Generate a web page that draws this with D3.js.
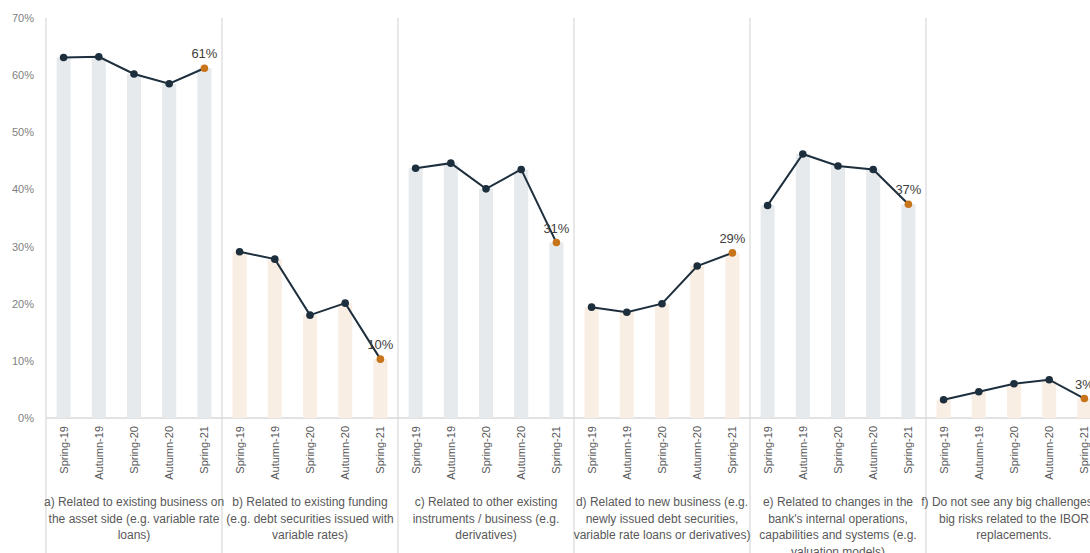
<!DOCTYPE html>
<html>
<head>
<meta charset="utf-8">
<script src="https://cdn.jsdelivr.net/npm/d3@7"></script>
<style>
  html, body { margin: 0; padding: 0; background: #fff; overflow: hidden; }
  svg { display: block; font-family: "Liberation Sans", Arial, sans-serif; }
</style>
</head>
<body>
<svg id="chart" width="1090" height="553"></svg>
<script>
const periods = ["Spring-19", "Autumn-19", "Spring-20", "Autumn-20", "Spring-21"];
const groups = ["a", "b", "c", "d", "e", "f"];
const groupLabels = [
  ["a) Related to existing business on", "the asset side (e.g. variable rate", "loans)"],
  ["b) Related to existing funding", "(e.g. debt securities issued with", "variable rates)"],
  ["c) Related to other existing", "instruments / business (e.g.", "derivatives)"],
  ["d) Related to new business (e.g.", "newly issued debt securities,", "variable rate loans or derivatives)"],
  ["e) Related to changes in the", "bank's internal operations,", "capabilities and systems (e.g.", "valuation models)"],
  ["f) Do not see any big challenges or", "big risks related to the IBOR", "replacements."]
];
const valuesA = [63.1, 63.2, 60.2, 58.5, 61.2];
const valuesB = [29.1, 27.8, 18.0, 20.1, 10.3];
const valuesC = [43.7, 44.6, 40.1, 43.5, 30.7];
const valuesD = [19.4, 18.5, 20.0, 26.6, 28.9];
const valuesE = [37.2, 46.2, 44.1, 43.5, 37.4];
const valuesF = [3.2, 4.6, 6.0, 6.7, 3.4];
const lastLabels = ["61%", "10%", "31%", "29%", "37%", "3%"];
const yTicks = [0, 10, 20, 30, 40, 50, 60, 70];

const seriesValues = [valuesA, valuesB, valuesC, valuesD, valuesE, valuesF];

const svg = d3.select("#chart");
const mLeft = 46, groupW = 176, mTop = 18, base = 418;

const y = d3.scaleLinear().domain([0, 70]).range([base, mTop]);
const gx = d3.scaleBand().domain(groups).range([mLeft, mLeft + groupW * groups.length]).padding(0);
const px = d3.scaleBand().domain(periods).range([0, groupW]).paddingInner(0.6).paddingOuter(0.3);

const barColors = ["#e6eaed", "#f8eee4", "#e6eaed", "#f8eee4", "#e6eaed", "#f8eee4"];
const lineColor = "#1d2e3d";
const lastColor = "#c8741a";
const sepColor = "#d9d9d9";

// y axis labels
const yAxis = d3.axisLeft(y).tickValues(yTicks).tickFormat(d => d + "%").tickSize(0).tickPadding(12);
const ya = svg.append("g").attr("transform", `translate(${mLeft},0)`).call(yAxis);
ya.select(".domain").remove();
ya.selectAll("text").attr("fill", "#7f7f7f").style("font-size", "11px").style("font-family", "'Liberation Sans', Arial, sans-serif");

// baseline
svg.append("line").attr("x1", mLeft).attr("x2", 1090).attr("y1", base).attr("y2", base)
  .attr("stroke", sepColor).attr("stroke-width", 1.5);

// separators
svg.selectAll("line.sep").data(groups).join("line").attr("class", "sep")
  .attr("x1", d => gx(d)).attr("x2", d => gx(d)).attr("y1", mTop).attr("y2", 553)
  .attr("stroke", sepColor).attr("stroke-width", 1.2);

groups.forEach((g, gi) => {
  const vals = seriesValues[gi];
  const data = periods.map((p, i) => ({ p, v: vals[i] }));
  const grp = svg.append("g").attr("transform", `translate(${gx(g)},0)`);

  grp.selectAll("rect").data(data).join("rect")
    .attr("x", d => px(d.p)).attr("width", px.bandwidth())
    .attr("y", d => y(d.v)).attr("height", d => base - y(d.v))
    .attr("fill", barColors[gi]);

  const cx = d => px(d.p) + px.bandwidth() / 2;
  grp.append("path").datum(data)
    .attr("d", d3.line().x(cx).y(d => y(d.v)))
    .attr("fill", "none").attr("stroke", lineColor).attr("stroke-width", 2);

  grp.selectAll("circle").data(data).join("circle")
    .attr("cx", cx).attr("cy", d => y(d.v)).attr("r", 3.8)
    .attr("fill", (d, i) => i === data.length - 1 ? lastColor : lineColor);

  const last = data[data.length - 1];
  grp.append("text").attr("x", cx(last)).attr("y", y(last.v) - 10)
    .attr("text-anchor", "middle").attr("fill", "#404040").style("font-size", "13px")
    .text(lastLabels[gi]);

  // tick labels rotated
  grp.selectAll("text.tick").data(data).join("text").attr("class", "tick")
    .attr("transform", d => `translate(${cx(d) + 4},${base + 8}) rotate(-90)`)
    .attr("text-anchor", "end").attr("fill", "#595959").style("font-size", "11px")
    .text(d => d.p);

  // category label
  const t = grp.append("text").attr("text-anchor", "middle").attr("fill", "#595959").style("font-size", "12px");
  groupLabels[gi].forEach((line, li) => {
    t.append("tspan").attr("x", groupW / 2).attr("y", 506 + li * 16.5).text(line);
  });
});
</script>
</body>
</html>
